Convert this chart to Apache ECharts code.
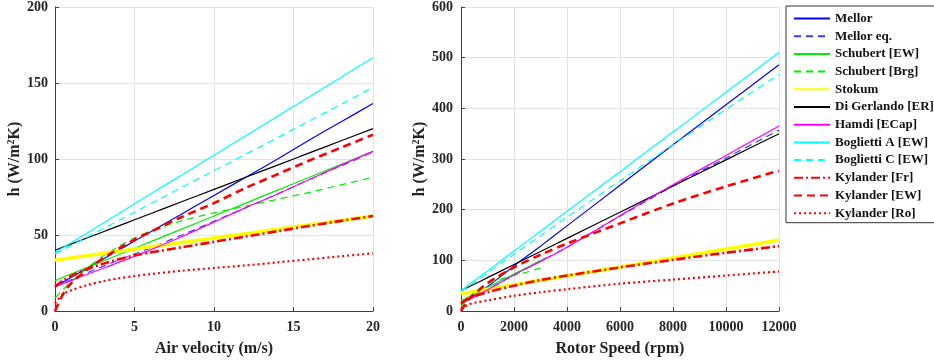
<!DOCTYPE html>
<html>
<head>
<meta charset="utf-8">
<script src="https://cdn.jsdelivr.net/npm/echarts@6/dist/echarts.min.js"></script>
<style>
html,body{margin:0;padding:0;background:#fff;}
#chart{width:934px;height:363px;}
</style>
</head>
<body>
<div id="chart"></div>
<script>
// ---------- DATA ----------
// Left panel: air velocity (m/s)
var velocity = [0, 0.5, 1, 2, 3, 4, 5, 6, 8, 10, 12, 14, 16, 18, 20];
var L_mellor      = [16, 19, 22, 28, 34, 40, 46, 52, 64, 76, 88, 100, 112.5, 124.5, 136.5];
var L_mellorEq    = [16, 18.3, 20.5, 25, 29.3, 33.5, 37.5, 41.5, 50, 59, 68, 77, 86.5, 95.5, 104.5];
var L_schubertEW  = [20, 22.1, 24.3, 28.5, 32.8, 37, 41.3, 45.5, 54, 62.5, 71, 79.5, 88, 96.5, 105];
var L_schubertBrg = [8.5, 14, 19, 28, 36, 42.5, 48, 52.5, 59.5, 64.5, 69, 73.5, 78, 83, 88];
var L_stokum      = [33.5, 34.2, 35, 36.4, 37.9, 39.3, 40.8, 42.2, 45.1, 48, 50.9, 53.8, 56.7, 59.6, 62.5];
var L_digerlando  = [40, 42, 44, 48, 52, 56, 60, 64, 72, 80, 88, 96, 104, 112, 120];
var L_hamdi       = [16, 18, 20, 24, 28, 32, 36, 40.2, 49, 58.5, 68, 77, 86.5, 96, 105];
var L_bogliettiA  = [38.4, 41.6, 44.8, 51.2, 57.6, 64, 70.5, 76.9, 89.7, 102.5, 115.3, 128.1, 140.9, 153.8, 166.6];
var L_bogliettiC  = [37.5, 40.2, 43, 48.5, 54, 59.5, 65, 70.5, 81.5, 92.3, 103.2, 114, 125, 136, 147];
var L_kylanderFr  = [16, 20, 23, 27.5, 31, 34, 36.5, 38.5, 42, 45.5, 49, 52.5, 56, 59.3, 62.5];
var L_kylanderEW  = [0, 11, 18, 27, 34.5, 41, 47, 52, 62, 71, 81, 90, 99, 107.5, 116];
var L_kylanderRo  = [5, 11, 13.5, 17, 19.5, 21.5, 23, 24.3, 26.5, 28.3, 30, 32, 34, 36, 38];

// Right panel: rotor speed (rpm)
var rpm = [0, 250, 500, 1000, 2000, 3000, 4000, 6000, 8000, 10000, 12000];
var R_mellor      = [15, 22, 30, 48, 89, 128, 168, 248, 328, 407, 486];
var R_mellorEq    = [15, 21.5, 28, 42, 71, 98, 126, 187, 247, 302, 357];
var R_stokum      = [34, 36.2, 38.4, 42.8, 51.7, 60.5, 69.3, 87, 104.7, 122.3, 140];
var R_digerlando  = [40, 46.5, 52.9, 65.8, 91.7, 117.5, 143.3, 195, 246.7, 298.3, 350];
var R_hamdi       = [15, 21.5, 28, 42, 71, 98, 126, 188, 249, 307, 365];
var R_bogliettiA  = [40, 49.8, 59.6, 79.2, 118.3, 157.5, 196.7, 275, 353.3, 431.7, 510];
var R_bogliettiC  = [38, 47.2, 56.4, 75, 112, 148.5, 185, 257, 328, 398, 467];
var R_kylanderFr  = [15, 24, 29, 37, 50, 61, 70, 86, 101, 115, 128];
var R_kylanderEW  = [0, 20, 33, 55, 86, 111, 133, 173, 212, 246, 277];
var R_kylanderRo  = [4, 12, 16, 21, 30, 37, 43, 54, 62, 70, 78];
// Schubert correlations only cover the lower speed range
var rpmSchubert = [0, 80, 160, 320, 480, 640, 800, 960, 1280, 1600, 1920, 2240, 2560, 2880, 3200];
var R_schubertEW  = [20, 22.1, 24.3, 28.5, 32.8, 37, 41.3, 45.5, 54, 62.5, 71, 79.5, 88, 96.5, 105];
var R_schubertBrg = [8.5, 14, 19, 28, 36, 42.5, 48, 52.5, 59.5, 64.5, 69, 73.5, 78, 83, 88];

var seriesNames = ['Mellor', 'Mellor eq.', 'Schubert [EW]', 'Schubert [Brg]', 'Stokum',
  'Di Gerlando [ER]', 'Hamdi [ECap]', 'Boglietti A [EW]', 'Boglietti C [EW]',
  'Kylander [Fr]', 'Kylander [EW]', 'Kylander [Ro]'];
var xTicksLeft = [0, 5, 10, 15, 20];
var yTicksLeft = [0, 50, 100, 150, 200];
var xTicksRight = [0, 2000, 4000, 6000, 8000, 10000, 12000];
var yTicksRight = [0, 100, 200, 300, 400, 500, 600];

// ---------- STYLES ----------
var styles = {
  'Mellor':           {color: '#0000ff', width: 1.2, type: 'solid'},
  'Mellor eq.':       {color: '#3a3aff', width: 1.2, type: [7, 5]},
  'Schubert [EW]':    {color: '#00ee00', width: 1.2, type: 'solid'},
  'Schubert [Brg]':   {color: '#00ee00', width: 1.2, type: [7, 5]},
  'Stokum':           {color: '#ffff00', width: 3.5, type: 'solid'},
  'Di Gerlando [ER]': {color: '#000000', width: 1.2, type: 'solid'},
  'Hamdi [ECap]':     {color: '#ff00ff', width: 1.2, type: 'solid'},
  'Boglietti A [EW]': {color: '#00ffff', width: 1.2, type: 'solid'},
  'Boglietti C [EW]': {color: '#00ffff', width: 1.2, type: [7, 5]},
  'Kylander [Fr]':    {color: '#ff0000', width: 2.6, type: [9, 3, 2, 3]},
  'Kylander [EW]':    {color: '#ff0000', width: 2.6, type: [8, 5]},
  'Kylander [Ro]':    {color: '#ff0000', width: 2.2, type: [2, 3]}
};

var leftData = {
  'Mellor': L_mellor, 'Mellor eq.': L_mellorEq, 'Schubert [EW]': L_schubertEW,
  'Schubert [Brg]': L_schubertBrg, 'Stokum': L_stokum, 'Di Gerlando [ER]': L_digerlando,
  'Hamdi [ECap]': L_hamdi, 'Boglietti A [EW]': L_bogliettiA, 'Boglietti C [EW]': L_bogliettiC,
  'Kylander [Fr]': L_kylanderFr, 'Kylander [EW]': L_kylanderEW, 'Kylander [Ro]': L_kylanderRo
};
var rightData = {
  'Mellor': [rpm, R_mellor], 'Mellor eq.': [rpm, R_mellorEq],
  'Schubert [EW]': [rpmSchubert, R_schubertEW], 'Schubert [Brg]': [rpmSchubert, R_schubertBrg],
  'Stokum': [rpm, R_stokum], 'Di Gerlando [ER]': [rpm, R_digerlando],
  'Hamdi [ECap]': [rpm, R_hamdi], 'Boglietti A [EW]': [rpm, R_bogliettiA],
  'Boglietti C [EW]': [rpm, R_bogliettiC], 'Kylander [Fr]': [rpm, R_kylanderFr],
  'Kylander [EW]': [rpm, R_kylanderEW], 'Kylander [Ro]': [rpm, R_kylanderRo]
};

function pairs(xs, ys) { return xs.map(function (x, i) { return [x, ys[i]]; }); }

var FONT = "'Liberation Serif', 'Times New Roman', serif";
var series = [];
seriesNames.forEach(function (n) {
  var s = styles[n];
  var ls = {color: s.color, width: s.width, type: s.type, cap: 'butt'};
  series.push({
    name: n, type: 'line', xAxisIndex: 0, yAxisIndex: 0,
    data: pairs(velocity, leftData[n]), symbol: 'none', smooth: 0.3,
    lineStyle: ls, itemStyle: {color: s.color}, animation: false, z: 2
  });
  series.push({
    name: n, type: 'line', xAxisIndex: 1, yAxisIndex: 1,
    data: pairs(rightData[n][0], rightData[n][1]), symbol: 'none', smooth: 0.3,
    lineStyle: ls, itemStyle: {color: s.color}, animation: false, z: 2
  });
});

function xAxisCfg(idx, ticks, name) {
  return {
    type: 'value', gridIndex: idx, min: ticks[0], max: ticks[ticks.length - 1],
    interval: ticks[1] - ticks[0],
    name: name, nameLocation: 'middle', nameGap: 30,
    nameTextStyle: {fontFamily: FONT, fontWeight: 'bold', fontSize: 16, color: '#222'},
    axisLine: {show: true, lineStyle: {color: '#404040', width: 1}},
    axisTick: {show: true, inside: true, length: 4, lineStyle: {color: '#404040'}},
    axisLabel: {fontFamily: FONT, fontWeight: 'bold', fontSize: 14, color: '#262626', margin: 9,
      formatter: function (v) { return String(v); }},
    splitLine: {show: true, lineStyle: {color: '#e2e2e2', width: 1}}
  };
}
function yAxisCfg(idx, ticks, margin, nameGap) {
  return {
    type: 'value', gridIndex: idx, min: ticks[0], max: ticks[ticks.length - 1],
    interval: ticks[1] - ticks[0],
    name: '{a|h (W/m}{s|2}{a|K)}', nameLocation: 'middle', nameGap: nameGap,
    nameTextStyle: {
      rich: {
        a: {fontFamily: FONT, fontWeight: 'bold', fontSize: 16, color: '#222'},
        s: {fontFamily: FONT, fontWeight: 'bold', fontSize: 10, color: '#222', verticalAlign: 'top', padding: [0, 0, 8, 0]}
      }
    },
    axisLine: {show: true, lineStyle: {color: '#404040', width: 1}},
    axisTick: {show: true, inside: true, length: 4, lineStyle: {color: '#404040'}},
    axisLabel: {fontFamily: FONT, fontWeight: 'bold', fontSize: 14, color: '#262626', margin: margin,
      formatter: function (v) { return String(v); }},
    splitLine: {show: true, lineStyle: {color: '#e2e2e2', width: 1}}
  };
}

var option = {
  backgroundColor: '#ffffff',
  animation: false,
  grid: [
    {left: 55, top: 6, width: 318, height: 305, containLabel: false},
    {left: 461, top: 6, width: 318, height: 305, containLabel: false}
  ],
  xAxis: [xAxisCfg(0, xTicksLeft, 'Air velocity (m/s)'), xAxisCfg(1, xTicksRight, 'Rotor Speed (rpm)')],
  yAxis: [yAxisCfg(0, yTicksLeft, 7, 31), yAxisCfg(1, yTicksRight, 8, 30)],
  legend: {
    data: seriesNames, orient: 'vertical', left: 786, top: 6,
    itemWidth: 36, itemHeight: 14, itemGap: 4.7,
    padding: [6, 12, 3, 7],
    backgroundColor: '#ffffff', borderColor: '#333333', borderWidth: 1,
    itemStyle: {opacity: 0, borderWidth: 0},
    textStyle: {fontFamily: FONT, fontWeight: 'bold', fontSize: 13, color: '#111'},
    selectedMode: false
  },
  series: series
};

var chart = echarts.init(document.getElementById('chart'), null, {renderer: 'canvas'});
chart.setOption(option);
</script>
</body>
</html>
